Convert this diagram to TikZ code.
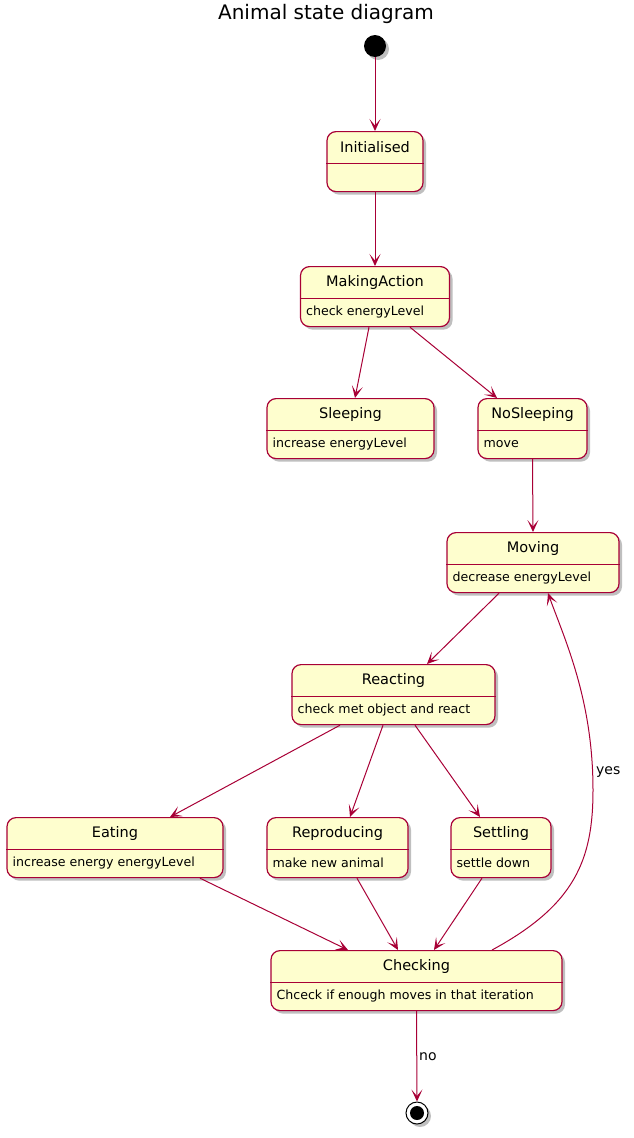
\documentclass[tikz,border=0pt]{standalone}
\usepackage{fontspec}
\setmainfont{DejaVu Sans}
\usetikzlibrary{arrows.meta,shadows}
\definecolor{stfill}{HTML}{FEFECE}
\definecolor{stline}{HTML}{A80036}
\tikzset{
  shade/.style={drop shadow={shadow xshift=3pt,shadow yshift=-3pt,opacity=0.25,fill=black}},
  statebox/.style={draw=stline,fill=stfill,line width=1.2pt,rounded corners=9pt,
    minimum height=60pt,inner sep=0pt,anchor=north,shade},
  divider/.style={draw=stline,line width=1pt},
  sttitle/.style={font=\fontsize{14.5}{16}\selectfont,inner sep=0pt},
  stdesc/.style={font=\fontsize{12.6}{15}\selectfont,inner sep=0pt,anchor=west},
  trans/.style={draw=stline,line width=1pt,-{Stealth[length=12pt,width=11pt,inset=6.5pt]}},
  lbl/.style={font=\fontsize{14}{16}\selectfont,inner sep=0pt},
}
% a state: name, centre x, top y, width, title, description
\newcommand{\umlstate}[6]{%
  \node[statebox,minimum width=#4] (#1) at (#2,#3) {};
  \draw[divider] ([yshift=-32pt]#1.north west) -- ([yshift=-32pt]#1.north east);
  \node[sttitle] (#1-t) at ([yshift=-16pt]#1.north) {#5};
  \node[stdesc] (#1-d) at ([xshift=6pt,yshift=-46pt]#1.north west) {#6};
}
\begin{document}
\begin{tikzpicture}[x=1pt,y=-1pt]
\useasboundingbox (0,0) rectangle (634,1138);
\node[font=\fontsize{20}{22}\selectfont,inner sep=0pt] (title) at (326,14) {Animal state diagram};

\node[circle,fill=black,minimum size=22pt,inner sep=0pt,shade] (start) at (375,46) {};

\umlstate{init}{375}{131}{96pt}{Initialised}{}
\umlstate{make}{375}{266}{149pt}{MakingAction}{check energyLevel}
\umlstate{sleep}{350.5}{398}{167pt}{Sleeping}{increase energyLevel}
\umlstate{nosleep}{532.5}{398}{109pt}{NoSleeping}{move}
\umlstate{moving}{533}{532}{172pt}{Moving}{decrease energyLevel}
\umlstate{react}{393.5}{664}{203pt}{Reacting}{check met object and react}
\umlstate{eat}{115}{817}{216pt}{Eating}{increase energy energyLevel}
\umlstate{repro}{337.5}{817}{141pt}{Reproducing}{make new animal}
\umlstate{settle}{501}{817}{100pt}{Settling}{settle down}
\umlstate{check}{416.5}{950}{291pt}{Checking}{Chceck if enough moves in that iteration}

\node[circle,draw=black,fill=white,line width=1pt,minimum size=22pt,inner sep=0pt,shade] (stop) at (417,1113) {};
\node[circle,fill=black,minimum size=14pt,inner sep=0pt] (stopdot) at (stop) {};

\draw[trans] (start) -- (init.north);
\draw[trans] (init.south) -- (make.north);
\draw[trans] ([xshift=-6pt]make.south) -- ([xshift=4.5pt]sleep.north);
\draw[trans] ([xshift=35pt]make.south) -- ([xshift=-35.5pt]nosleep.north);
\draw[trans] (nosleep.south) -- (moving.north);
\draw[trans] ([xshift=-34pt]moving.south) -- ([xshift=33.5pt]react.north);
\draw[trans] ([xshift=-53.5pt]react.south) -- ([xshift=55pt]eat.north);
\draw[trans] ([xshift=-10.5pt]react.south) -- ([xshift=12.5pt]repro.north);
\draw[trans] ([xshift=21.5pt]react.south) -- ([xshift=-21pt]settle.north);
\draw[trans] ([xshift=85pt]eat.south) -- ([xshift=-68.5pt]check.north);
\draw[trans] ([xshift=19.5pt]repro.south) -- ([xshift=-18.5pt]check.north);
\draw[trans] ([xshift=-19pt]settle.south) -- ([xshift=17.5pt]check.north);
\coordinate (bend) at (593,790);
\draw[trans] ([xshift=75.5pt]check.north) .. controls (575,905) and (593,860) .. (bend)
  .. controls (593,700) and (565,640) .. ([xshift=15pt]moving.south);
\node[lbl,anchor=west] (yes) at (596,772) {yes};
\draw[trans] (check.south) -- (stop.north);
\node[lbl,anchor=west] (no) at (419,1057) {no};
\end{tikzpicture}
\end{document}
